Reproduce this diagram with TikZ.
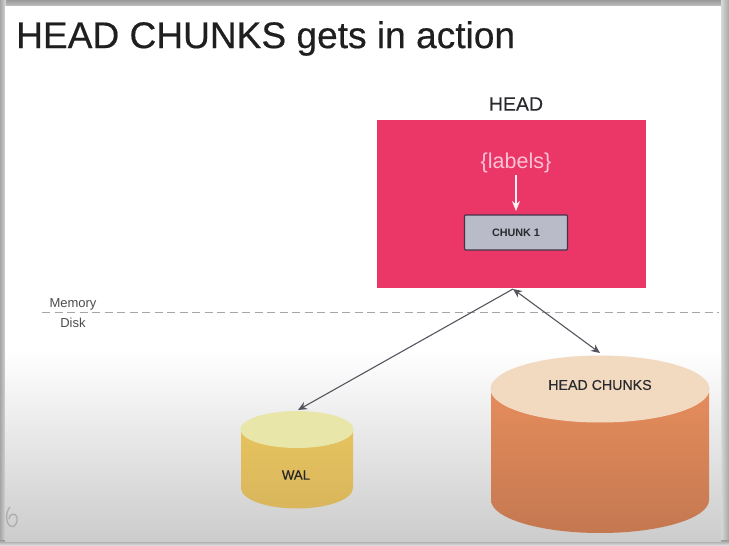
\documentclass[tikz,border=0pt]{standalone}
\usepackage{fontspec}
\setmainfont{Liberation Sans}
\usetikzlibrary{shapes.geometric,arrows.meta,calc}
\definecolor{headpink}{HTML}{EA3768}
\definecolor{chunkfill}{HTML}{B9BBC8}
\definecolor{chunkedge}{HTML}{45324A}
\definecolor{labelpink}{HTML}{FBC3D3}
\definecolor{walsideA}{HTML}{E6C25E}
\definecolor{walsideB}{HTML}{D9B65C}
\definecolor{waltop}{HTML}{E9E6A9}
\definecolor{hcsideA}{HTML}{E58C5C}
\definecolor{hcsideB}{HTML}{C47850}
\definecolor{hctop}{HTML}{F1DAC0}
\definecolor{lineg}{HTML}{555560}
\definecolor{textd}{HTML}{2A2A2E}
\tikzset{
  capsule/.style={ellipse,inner sep=0pt,outer sep=0pt,draw=none},
  link/.style={draw=lineg,line width=1.1pt,-{Stealth[length=9pt,width=8pt]}},
  linkboth/.style={draw=lineg,line width=1.1pt,{Stealth[length=9pt,width=8pt]}-{Stealth[length=9pt,width=8pt]}},
  txt/.style={text=textd,inner sep=0pt,anchor=center},
}
\begin{document}
\begin{tikzpicture}[x=1pt,y=-1pt,every node/.style={font=\fontsize{10}{12}\selectfont}]
\useasboundingbox (0,0) rectangle (729,546);
% outer frame
\fill[black!30] (0,0) rectangle (729,546);
\shade[top color=black!40,bottom color=black!22] (0,0) rectangle (729,7);
\shade[left color=black!35,right color=black!15] (0,0) rectangle (6,546);
\shade[left color=black!15,right color=black!35] (721,0) rectangle (729,546);
\shade[top color=black!40,bottom color=black!10] (0,540) rectangle (729,546);
% slide
\fill[white] (5,6) rectangle (721,352);
\shade[top color=white,bottom color=black!20] (5,350) rectangle (721,541);
% faint logo
\draw[black!32,line width=1.3pt] (10,507) .. controls (6,511) and (5,522) .. (10,526) .. controls (15,529) and (18,522) .. (17,517) .. controls (15,512) and (9,514) .. (9,519);
% title
\node[txt,anchor=west,font=\fontsize{37.1}{40}\selectfont,text=black!88] (title) at (16,38.5) {\addfontfeature{FakeBold=0.4}HEAD CHUNKS gets in action};
% memory/disk
\coordinate (dashl) at (42,312);
\coordinate (dashr) at (719,312);
\draw[draw=black!35,line width=1pt,dash pattern=on 8pt off 4.5pt] (dashl) -- (dashr);
\node[txt,font=\fontsize{13}{15}\selectfont,text=black!70] (mem) at (73,304) {Memory};
\node[txt,font=\fontsize{13}{15}\selectfont,text=black!70] (disk) at (73,323) {Disk};
% head box
\node[txt,font=\fontsize{19.5}{22}\selectfont] (headt) at (516,104) {\addfontfeature{FakeBold=0.2}HEAD};
\node[fill=headpink,draw=none,minimum width=269.5pt,minimum height=168.5pt,inner sep=0pt,outer sep=0pt] (head) at (511.5,203.8) {};
\node[txt,font=\fontsize{21.5}{24}\selectfont,text=labelpink] (labels) at (516,162.5) {\{labels\}};
\node[fill=chunkfill,draw=chunkedge,line width=1.1pt,rounded corners=1pt,minimum width=103pt,minimum height=35pt,inner sep=0pt,font=\bfseries\fontsize{10.8}{12}\selectfont,text=textd] (chunk) at (516,232.5) {CHUNK 1};
\coordinate (labelsfoot) at (516,175);
\coordinate (chunktop) at (516,211);
\draw[draw=white!92!headpink,line width=1.1pt,-{Stealth[length=10pt,width=8pt]}] (labelsfoot) -- (chunktop);
% WAL cylinder
\shade[top color=walsideA,bottom color=walsideB] (241,431) -- (241,488) arc[start angle=180,end angle=0,x radius=56,y radius=20.5] -- (353,431) -- cycle;
\node[capsule,fill=waltop,minimum width=113pt,minimum height=37pt] (waltopn) at (297,429.5) {};
\node[txt,font=\fontsize{13.2}{15}\selectfont,text=textd!90!black] (wal) at (296,475) {\addfontfeature{FakeBold=0.5}WAL};
% HEAD CHUNKS cylinder
\shade[top color=hcsideA,bottom color=hcsideB] (491,392) -- (491,500) arc[start angle=180,end angle=0,x radius=109,y radius=33] -- (709,392) -- cycle;
\node[capsule,fill=hctop,minimum width=219pt,minimum height=67pt] (hctopn) at (600,389) {};
\node[txt,font=\fontsize{14.2}{16}\selectfont] (hc) at (600,385) {\addfontfeature{FakeBold=0.3}HEAD CHUNKS};
% connectors
\coordinate (hb) at (513,289);
\draw[link] (hb) -- (298,410);
\draw[linkboth] (hb) -- (600,353);
\end{tikzpicture}
\end{document}
